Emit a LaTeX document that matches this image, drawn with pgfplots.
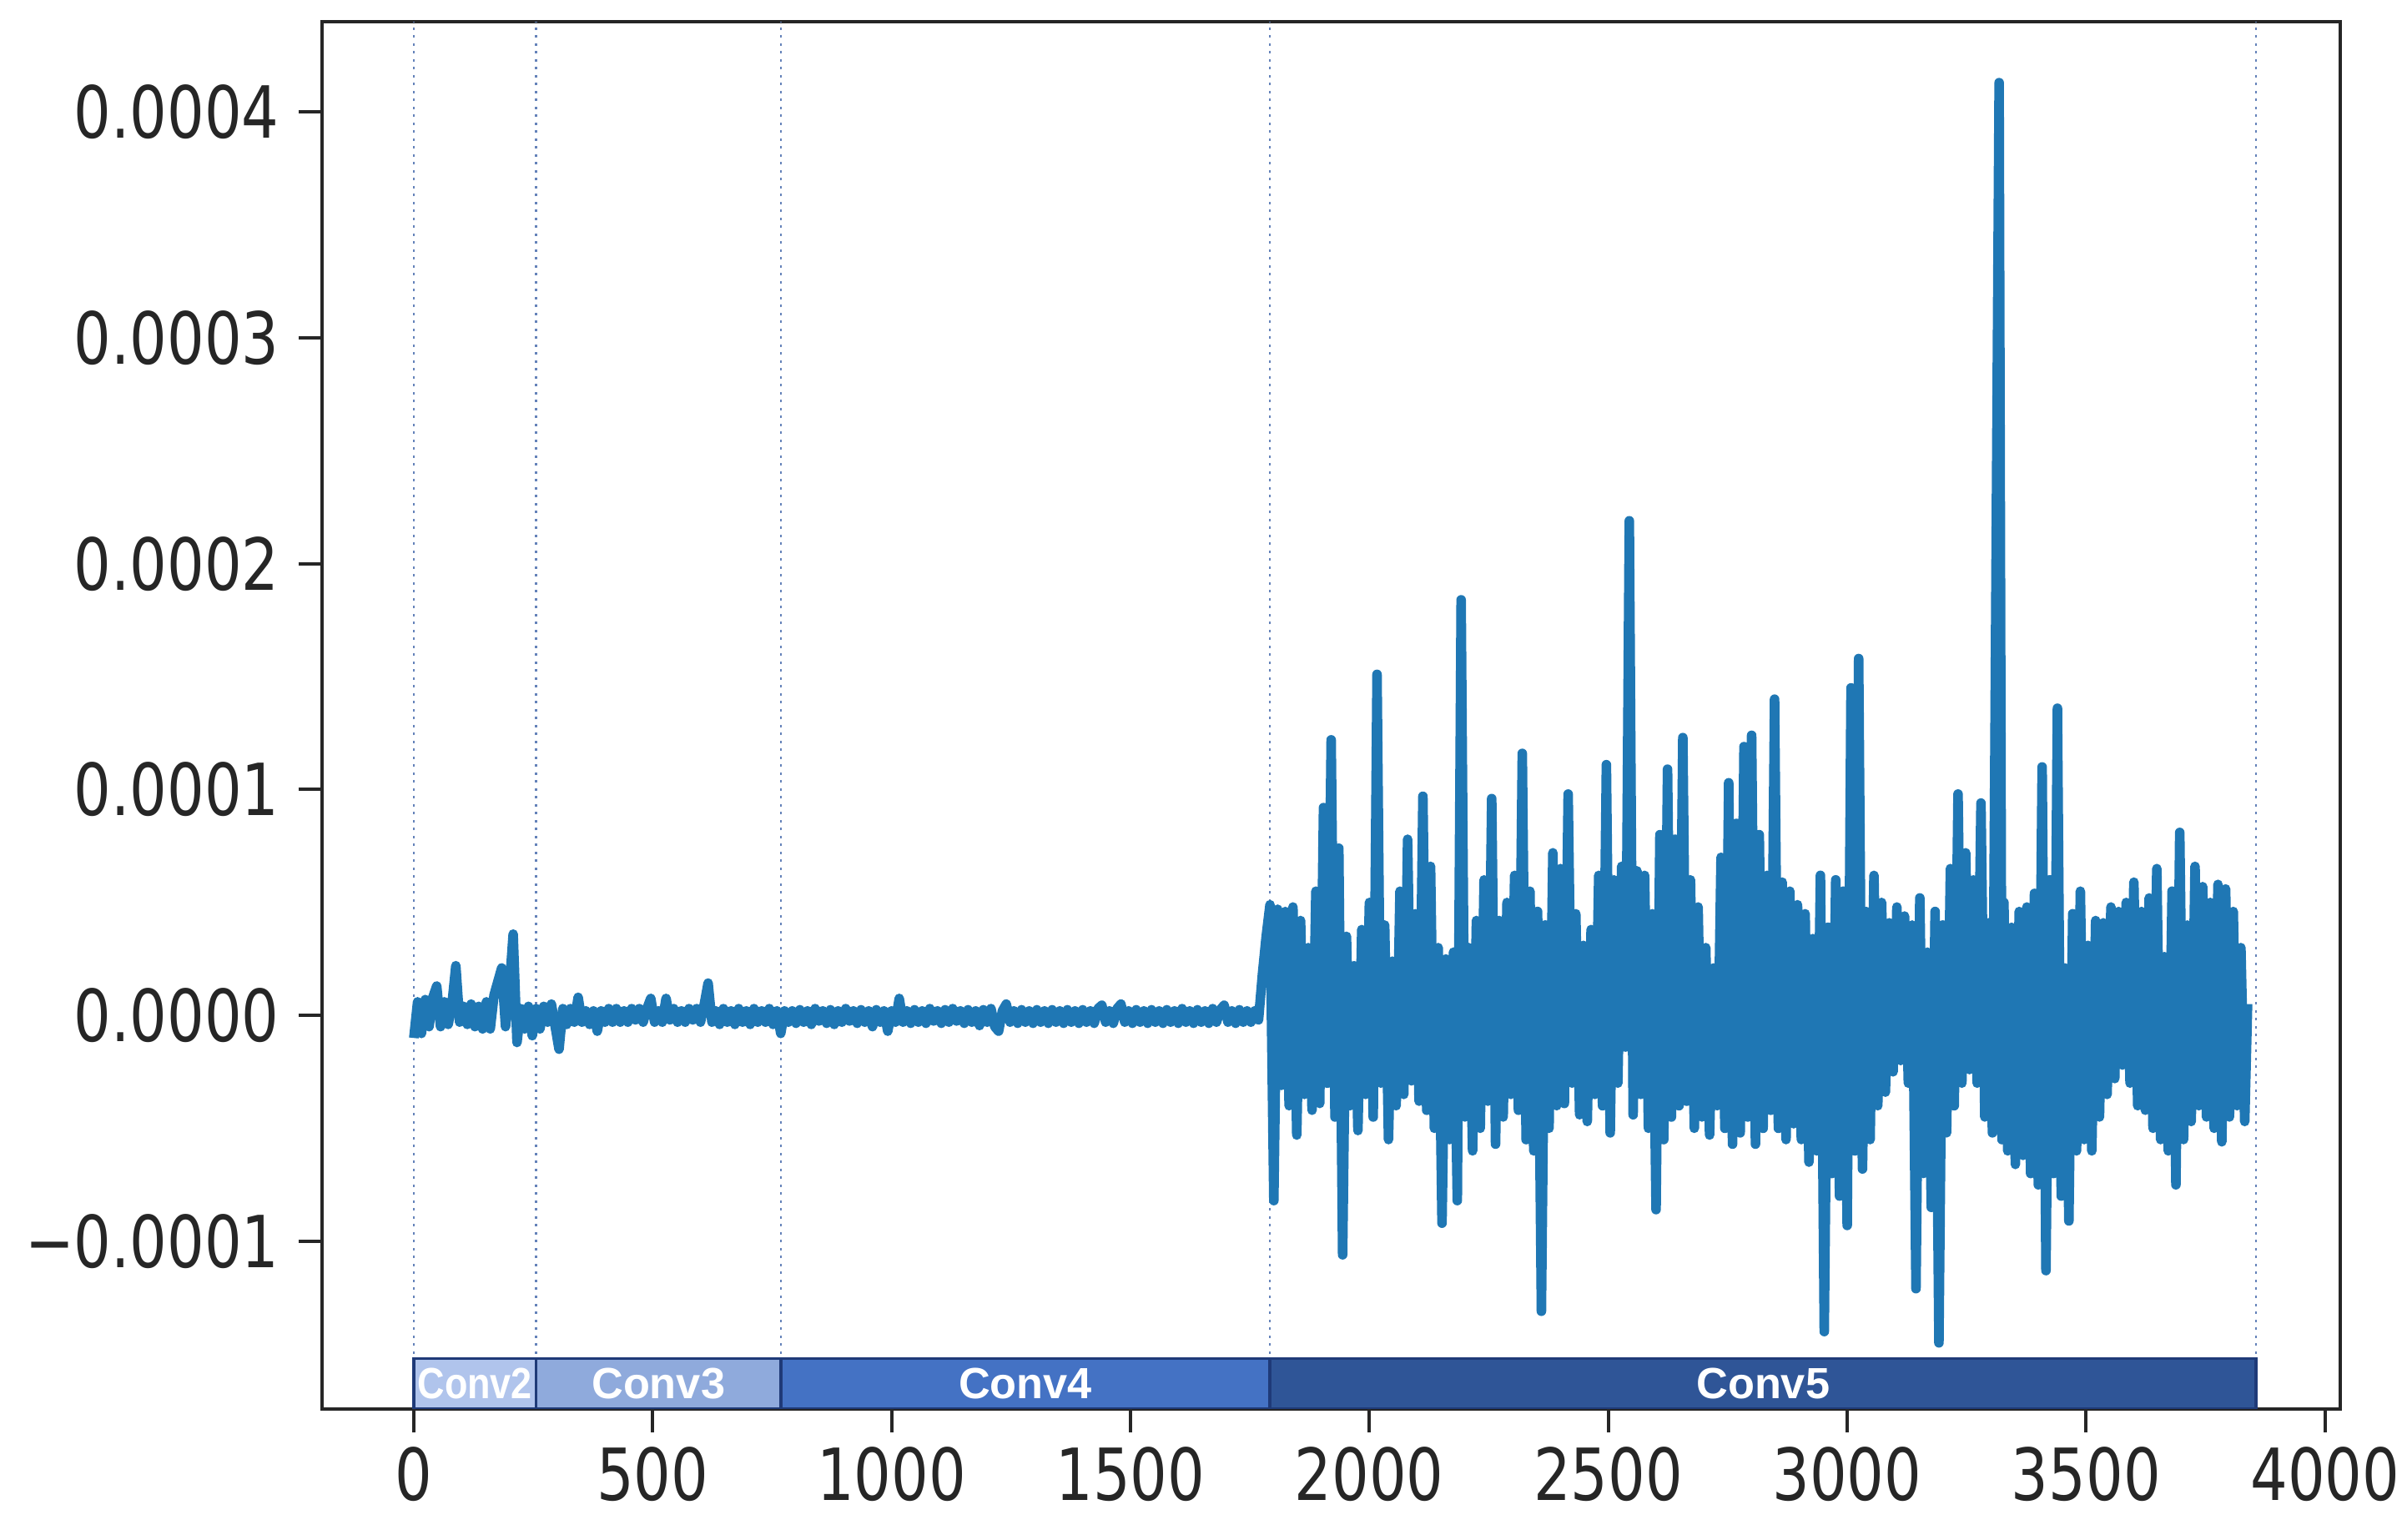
\documentclass[border=0pt]{standalone}
\usepackage{pgfplots}
\pgfplotsset{compat=1.18}
\usepackage{fontspec}
\setmainfont{DejaVu Sans}
\newfontfamily\labfont{Liberation Sans}
\definecolor{series}{HTML}{1F77B4}
\definecolor{vline}{RGB}{100,130,185}
\definecolor{cA}{HTML}{B0C4EC}
\definecolor{cB}{HTML}{8FAADC}
\definecolor{cC}{HTML}{4472C4}
\definecolor{cD}{HTML}{2F5597}
\definecolor{bandedge}{HTML}{1F3A78}
\begin{document}
\begin{tikzpicture}
\begin{axis}[
  at={(77.2bp,31.2bp)}, anchor=south west,
  scale only axis, width=483.8bp, height=332.6bp,
  xmin=-192, xmax=4032, ymin=-1.743, ymax=4.40,
  xtick={0,500,1000,1500,2000,2500,3000,3500,4000},
  xticklabels={0,500,1000,1500,2000,2500,3000,3500,4000},
  ytick={-1,0,1,2,3,4},
  yticklabels={−0.0001,0.0000,0.0001,0.0002,0.0003,0.0004},
  tick align=outside, xtick pos=bottom, ytick pos=left,
  major tick length=5.6bp,
  every tick/.style={black!85, line width=0.8bp},
  axis line style={line width=0.8bp, black!85},
  tick label style={font=\fontsize{17.3}{20}\selectfont, xscale=0.815, text=black!85},
  yticklabel style={xshift=-2.2bp},
  clip=true,
]
% layer boundaries (dotted)
\addplot[vline, line width=0.45bp, dash pattern=on 0.6bp off 1.3bp] coordinates {(0,-1.743) (0,4.40)};
\addplot[vline, line width=0.45bp, dash pattern=on 0.6bp off 1.3bp] coordinates {(256,-1.743) (256,4.40)};
\addplot[vline, line width=0.45bp, dash pattern=on 0.6bp off 1.3bp] coordinates {(768,-1.743) (768,4.40)};
\addplot[vline, line width=0.45bp, dash pattern=on 0.6bp off 1.3bp] coordinates {(1792,-1.743) (1792,4.40)};
\addplot[vline, line width=0.45bp, dash pattern=on 0.6bp off 1.3bp] coordinates {(3856,-1.743) (3856,4.40)};
% series (values in units of 1e-4)
\addplot[series, line width=2.3bp, line join=round, mark=none] coordinates {
(0,-0.10)(8,0.06)(16,-0.08)(24,0.07)(32,-0.05)(40,0.08)(48,0.13)(56,-0.05)(64,0.06)(72,-0.04)(80,0.05)(88,0.22)(96,-0.03)(104,0.04)(112,-0.04)(120,0.05)(128,-0.05)(136,0.04)(144,-0.06)(152,0.06)(160,-0.06)(168,0.09)(176,0.15)(184,0.21)(192,-0.05)(200,0.12)(208,0.36)(216,-0.12)(224,0.03)(232,-0.06)(240,0.04)(248,-0.09)
(256,0.03)(264,-0.06)(272,0.04)(280,-0.03)(288,0.05)(296,-0.05)(304,-0.15)(312,0.03)(320,-0.04)(328,0.03)(336,-0.03)(344,0.08)(352,-0.03)(360,0.02)(368,-0.04)(376,0.02)(384,-0.07)(392,0.02)(400,-0.03)(408,0.03)(416,-0.03)(424,0.03)(432,-0.03)(440,0.02)(448,-0.03)(456,0.03)(464,-0.02)(472,0.03)(480,-0.03)(488,0.03)(496,0.075)(504,-0.03)(512,0.02)(520,-0.03)(528,0.075)(536,-0.02)(544,0.03)(552,-0.03)(560,0.02)(568,-0.03)(576,0.03)(584,-0.02)(592,0.03)(600,-0.03)(608,0.05)(616,0.143)(624,-0.03)(632,0.02)(640,-0.04)(648,0.03)(656,-0.03)(664,0.02)(672,-0.04)(680,0.03)(688,-0.03)(696,0.02)(704,-0.04)(712,0.03)(720,-0.03)(728,0.02)(736,-0.03)(744,0.03)(752,-0.04)(760,0.02)
(768,-0.08)(776,0.02)(784,-0.03)(792,0.02)(800,-0.035)(808,0.025)(816,-0.03)(824,0.02)(832,-0.04)(840,0.03)(848,-0.025)(856,0.02)(864,-0.035)(872,0.025)(880,-0.04)(888,0.02)(896,-0.03)(904,0.03)(912,-0.025)(920,0.02)(928,-0.035)(936,0.025)(944,-0.03)(952,0.02)(960,-0.05)(968,0.025)(976,-0.03)(984,0.02)(992,-0.07)(1000,0.02)(1008,-0.03)(1016,0.075)(1024,-0.03)(1032,0.02)(1040,-0.035)(1048,0.025)(1056,-0.03)(1064,0.02)(1072,-0.035)(1080,0.03)(1088,-0.025)(1096,0.02)(1104,-0.035)(1112,0.025)(1120,-0.03)(1128,0.03)(1136,-0.025)(1144,0.02)(1152,-0.035)(1160,0.025)(1168,-0.03)(1176,0.02)(1184,-0.045)(1192,0.025)(1200,-0.03)(1208,0.03)(1216,-0.05)(1224,-0.07)(1232,0.02)(1240,0.05)(1248,-0.03)(1256,0.02)(1264,-0.035)(1272,0.025)(1280,-0.03)(1288,0.02)(1296,-0.035)(1304,0.025)(1312,-0.03)(1320,0.02)(1328,-0.035)(1336,0.025)(1344,-0.03)(1352,0.02)(1360,-0.035)(1368,0.025)(1376,-0.03)(1384,0.02)(1392,-0.035)(1400,0.025)(1408,-0.03)(1416,0.02)(1424,-0.035)(1432,0.03)(1440,0.045)(1448,-0.03)(1456,0.02)(1464,-0.035)(1472,0.03)(1480,0.05)(1488,-0.03)(1496,0.02)(1504,-0.035)(1512,0.025)(1520,-0.03)(1528,0.02)(1536,-0.035)(1544,0.025)(1552,-0.03)(1560,0.02)(1568,-0.035)(1576,0.025)(1584,-0.03)(1592,0.02)(1600,-0.035)(1608,0.03)(1616,-0.03)(1624,0.02)(1632,-0.035)(1640,0.025)(1648,-0.03)(1656,0.02)(1664,-0.035)(1672,0.03)(1680,-0.03)(1688,0.025)(1696,0.045)(1704,-0.03)(1712,0.02)(1720,-0.035)(1728,0.025)(1736,-0.03)(1744,0.02)(1752,-0.03)(1760,0.02)(1768,-0.02)(1776,0.18)(1784,0.35)
(1792,0.49)(1800,-0.82)(1808,0.47)(1816,-0.31)(1824,0.46)(1832,-0.40)(1840,0.48)(1848,-0.53)(1856,0.42)(1864,-0.35)(1872,0.30)(1880,-0.42)(1888,0.55)(1896,-0.39)(1904,0.92)(1912,-0.30)(1920,1.22)(1928,-0.45)(1936,0.74)(1944,-1.06)
(1952,0.35)(1960,-0.40)(1968,0.22)(1976,-0.51)(1984,0.38)(1992,-0.35)(2000,0.50)(2008,-0.45)(2016,1.51)(2024,-0.30)(2032,0.40)(2040,-0.55)(2048,0.24)(2056,-0.40)(2064,0.55)(2072,-0.35)(2080,0.78)(2088,-0.29)(2096,0.45)(2104,-0.38)
(2112,0.97)(2120,-0.42)(2128,0.66)(2136,-0.50)(2144,0.30)(2152,-0.92)(2160,0.25)(2168,-0.55)(2176,0.28)(2184,-0.82)(2192,1.84)(2200,-0.45)(2208,0.30)(2216,-0.60)(2224,0.42)(2232,-0.50)(2240,0.60)(2248,-0.38)(2256,0.96)(2264,-0.57)
(2272,0.42)(2280,-0.45)(2288,0.50)(2296,-0.35)(2304,0.62)(2312,-0.42)(2320,1.16)(2328,-0.55)(2336,0.55)(2344,-0.60)(2352,0.46)(2360,-1.31)(2368,0.40)(2376,-0.50)(2384,0.72)(2392,-0.40)(2400,0.65)(2408,-0.39)(2416,0.98)(2424,-0.30)
(2432,0.45)(2440,-0.44)(2448,0.31)(2456,-0.47)(2464,0.38)(2472,-0.35)(2480,0.62)(2488,-0.40)(2496,1.11)(2504,-0.52)(2512,0.60)(2520,-0.30)(2528,0.66)(2536,-0.14)(2544,2.19)(2552,-0.44)(2560,0.64)(2568,-0.35)(2576,0.62)(2584,-0.50)
(2592,0.45)(2600,-0.86)(2608,0.80)(2616,-0.55)(2624,1.09)(2632,-0.45)(2640,0.78)(2648,-0.40)(2656,1.23)(2664,-0.38)(2672,0.60)(2680,-0.50)(2688,0.48)(2696,-0.45)(2704,0.30)(2712,-0.53)(2720,0.21)(2728,-0.40)(2736,0.70)(2744,-0.50)
(2752,1.03)(2760,-0.57)(2768,0.85)(2776,-0.52)(2784,1.19)(2792,-0.45)(2800,1.24)(2808,-0.57)(2816,0.80)(2824,-0.50)(2832,0.62)(2840,-0.42)(2848,1.40)(2856,-0.50)(2864,0.59)(2872,-0.55)(2880,0.55)(2888,-0.48)(2896,0.49)(2904,-0.55)
(2912,0.45)(2920,-0.65)(2928,0.34)(2936,-0.60)(2944,0.62)(2952,-1.40)(2960,0.39)(2968,-0.70)(2976,0.60)(2984,-0.80)(2992,0.55)(3000,-0.93)(3008,1.45)(3016,-0.60)(3024,1.58)(3032,-0.68)(3040,0.46)(3048,-0.55)(3056,0.62)(3064,-0.40)
(3072,0.50)(3080,-0.34)(3088,0.41)(3096,-0.25)(3104,0.48)(3112,-0.20)(3120,0.44)(3128,-0.30)(3136,0.40)(3144,-1.21)(3152,0.52)(3160,-0.70)(3168,0.28)(3176,-0.85)(3184,0.46)(3192,-1.45)(3200,0.40)(3208,-0.52)(3216,0.65)(3224,-0.40)
(3232,0.98)(3240,-0.30)(3248,0.72)(3256,-0.24)(3264,0.60)(3272,-0.30)(3280,0.94)(3288,-0.45)(3296,0.41)(3304,-0.52)(3318,4.13)(3324,-0.55)(3328,0.50)(3336,-0.60)(3344,0.39)(3352,-0.66)(3360,0.46)(3368,-0.62)(3376,0.48)(3384,-0.70)
(3392,0.54)(3400,-0.75)(3408,1.10)(3416,-1.13)(3424,0.60)(3432,-0.70)(3440,1.36)(3448,-0.80)(3456,0.21)(3464,-0.91)(3472,0.45)(3480,-0.60)(3488,0.55)(3496,-0.55)(3504,0.31)(3512,-0.60)(3520,0.42)(3528,-0.45)(3536,0.41)(3544,-0.35)
(3552,0.48)(3560,-0.28)(3568,0.46)(3576,-0.22)(3584,0.50)(3592,-0.30)(3600,0.59)(3608,-0.40)(3616,0.46)(3624,-0.42)(3632,0.52)(3640,-0.50)(3648,0.65)(3656,-0.55)(3664,0.26)(3672,-0.60)(3680,0.55)(3688,-0.75)(3696,0.81)(3704,-0.55)
(3712,0.40)(3720,-0.47)(3728,0.66)(3736,-0.40)(3744,0.57)(3752,-0.45)(3760,0.50)(3768,-0.50)(3776,0.58)(3784,-0.56)(3792,0.56)(3800,-0.45)(3808,0.46)(3816,-0.40)(3824,0.30)(3832,-0.47)(3838,0.05)
};
% layer bands
\addplot[fill=cA, draw=bandedge, line width=0.7bp] coordinates {(0,-1.52) (256,-1.52) (256,-1.743) (0,-1.743)} -- cycle;
\addplot[fill=cB, draw=bandedge, line width=0.7bp] coordinates {(256,-1.52) (768,-1.52) (768,-1.743) (256,-1.743)} -- cycle;
\addplot[fill=cC, draw=bandedge, line width=0.7bp] coordinates {(768,-1.52) (1792,-1.52) (1792,-1.743) (768,-1.743)} -- cycle;
\addplot[fill=cD, draw=bandedge, line width=0.7bp] coordinates {(1792,-1.52) (3856,-1.52) (3856,-1.743) (1792,-1.743)} -- cycle;
\node[font=\labfont\bfseries\fontsize{10.5}{12}\selectfont, text=white, xscale=0.86, inner sep=0pt] at (axis cs:128,-1.632) {Conv2};
\node[font=\labfont\bfseries\fontsize{10.5}{12}\selectfont, text=white, inner sep=0pt] at (axis cs:512,-1.632) {Conv3};
\node[font=\labfont\bfseries\fontsize{10.5}{12}\selectfont, text=white, inner sep=0pt] at (axis cs:1280,-1.632) {Conv4};
\node[font=\labfont\bfseries\fontsize{10.5}{12}\selectfont, text=white, inner sep=0pt] at (axis cs:2824,-1.632) {Conv5};
\end{axis}
\pgfresetboundingbox
\path (0,0) rectangle (575.8bp,369bp);
\end{tikzpicture}
\end{document}
